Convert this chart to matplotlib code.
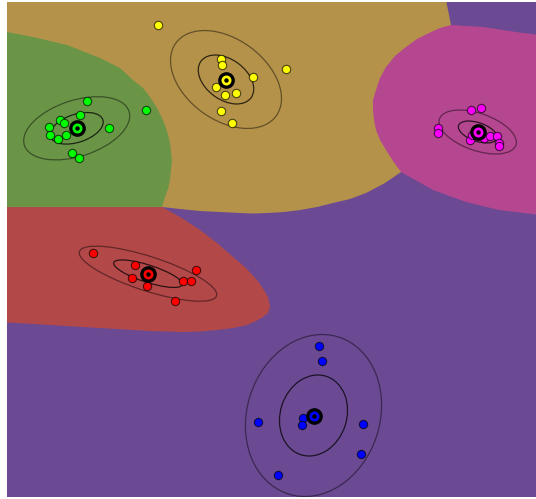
import numpy as np
import matplotlib
matplotlib.use("Agg")
import matplotlib.pyplot as plt
from matplotlib.patches import Ellipse, Polygon

# ---------------- data (pixel-like plane coordinates, y grows downward) -------------
classes = ["green", "yellow", "magenta", "red", "blue"]
point_colors = ["#00ff00", "#ffff00", "#ff00ff", "#ff0000", "#0000ff"]

green_x = [86.7, 79.7, 60.3, 64.0, 49.3, 108.7, 50.0, 66.0, 58.3, 71.7, 79.3, 145.7]
green_y = [101.3, 115.3, 120.3, 122.7, 126.7, 128.3, 135.3, 134.7, 138.7, 153.0, 157.7, 109.7]
yellow_x = [158.3, 221.3, 222.0, 252.5, 215.5, 224.5, 236.3, 221.0, 232.3, 285.7]
yellow_y = [24.7, 58.7, 65.3, 77.2, 87.2, 95.3, 93.0, 111.3, 122.8, 69.3]
magenta_x = [470.7, 480.7, 438.3, 438.3, 469.5, 472.0, 484.0, 490.0, 497.0, 499.3, 499.3]
magenta_y = [109.7, 107.7, 127.7, 133.3, 139.5, 134.5, 137.5, 135.5, 135.7, 143.3, 146.0]
red_x = [92.8, 135.2, 131.7, 146.7, 196.3, 182.7, 190.5, 174.8]
red_y = [253.0, 265.0, 278.0, 286.0, 270.3, 281.0, 281.2, 301.3]
blue_x = [319.3, 322.0, 258.3, 302.7, 302.3, 363.0, 360.7, 278.3]
blue_y = [346.0, 360.7, 422.0, 418.0, 425.3, 424.3, 453.7, 475.3]

# component means and covariance shapes (sigma along major / minor axis, angle in deg)
mean_x = [76.7, 226.0, 477.7, 148.0, 313.5]
mean_y = [128.3, 79.5, 132.0, 273.7, 415.5]
sigma_major = [27.5, 31.0, 20.2, 36.0, 41.2]
sigma_minor = [14.0, 20.2, 9.3, 8.6, 33.2]
angle_deg = [-18.0, 36.0, 19.0, 17.9, 108.0]

# decision regions (outlines of the coloured areas)
region_colors = {"background": "#6b4a93", "yellow": "#b5924a", "green": "#6a9547",
                 "red": "#b34848", "magenta": "#b4478f"}
yellow_region_x = [0, 446, 451, 420, 400, 401, 385, 366, 350, 333, 317, 300, 284, 267,
                   253, 240, 220, 200, 180, 162, 0]
yellow_region_y = [0, 0, 25, 60, 120, 172, 183, 193, 199, 203, 207, 210, 212, 213,
                   213.5, 213, 212, 211, 209, 207, 207]
green_region_x = [0, 7, 33, 67, 100, 120, 133, 143, 150, 157, 163, 167, 170, 172, 171,
                  170, 168, 165, 162, 0]
green_region_y = [32, 32, 37, 45, 58, 68, 80, 88, 97, 108, 120, 131, 143, 160, 170,
                  180, 189, 197, 207, 207]
red_region_x = [0, 162, 180, 200, 217, 233, 246, 257, 264, 268, 270, 268, 263, 256, 247,
                233, 217, 200, 183, 150, 100, 50, 0]
red_region_y = [207, 207, 217, 230, 243, 257, 268, 280, 290, 297, 307, 313, 317, 321, 325,
                328, 330, 331.5, 332, 331, 328, 325, 322]
magenta_region_x = [451, 483, 516, 540, 540, 499, 466, 433, 401, 393, 386, 380, 376, 374,
                    373, 373, 376, 380, 386, 395, 406, 417, 429, 440]
magenta_region_y = [25, 27, 32, 35, 215, 210, 202, 190, 172, 161, 150, 140, 130, 120,
                    110, 100, 90, 78, 67, 56, 47, 39, 33, 28]

# ---------------- figure ----------------
fig = plt.figure(figsize=(5.36, 4.99), dpi=100)
ax = fig.add_axes([7 / 536, 2 / 499, 529 / 536, 495 / 499])
ax.set_xlim(7, 536)
ax.set_ylim(497, 2)
ax.set_facecolor(region_colors["background"])
ax.set_axis_off()
ax.add_patch(plt.Rectangle((0, 0), 540, 500, color=region_colors["background"], zorder=0))

for name, rx, ry in [("yellow", yellow_region_x, yellow_region_y),
                     ("green", green_region_x, green_region_y),
                     ("red", red_region_x, red_region_y),
                     ("magenta", magenta_region_x, magenta_region_y)]:
    ax.add_patch(Polygon(np.column_stack([rx, ry]), closed=True,
                         facecolor=region_colors[name], edgecolor="none", zorder=1))

# covariance ellipses (1 and 2 sigma)
for k in range(len(classes)):
    for nsig, alpha in [(1, 0.75), (2, 0.45)]:
        ax.add_patch(Ellipse((mean_x[k], mean_y[k]), 2 * nsig * sigma_major[k],
                             2 * nsig * sigma_minor[k], angle=angle_deg[k],
                             facecolor="none", edgecolor="black", alpha=alpha,
                             lw=0.9, zorder=2))

# data points
pts = [(green_x, green_y), (yellow_x, yellow_y), (magenta_x, magenta_y),
       (red_x, red_y), (blue_x, blue_y)]
for (px, py), c in zip(pts, point_colors):
    ax.scatter(px, py, s=36, c=c, edgecolors=(0, 0, 0, 0.65), linewidths=0.8, zorder=3)

# component means (target markers)
for k in range(len(classes)):
    ax.plot(mean_x[k], mean_y[k], "o", ms=12.0, color="black", mec="none", zorder=4)
    ax.plot(mean_x[k], mean_y[k], "o", ms=7.2, color=point_colors[k], mec="none", zorder=5)
    ax.plot(mean_x[k], mean_y[k], "o", ms=3.2, color="black", mec="none", zorder=6)

fig.savefig("out.png", dpi=100)
